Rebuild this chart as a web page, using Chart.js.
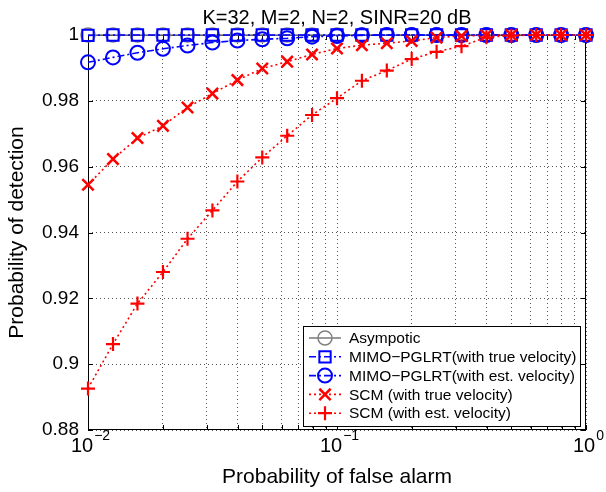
<!DOCTYPE html>
<html><head><meta charset="utf-8">
<script src="https://cdn.jsdelivr.net/npm/chart.js@4/dist/chart.umd.min.js"></script>
<style>html,body{margin:0;padding:0;background:#fff;}#wrap{width:606px;height:492px;position:relative;}</style>
</head><body><div id="wrap"><canvas id="c" width="606" height="492"></canvas></div>
<script>
const chartTitle = 'K=32, M=2, N=2, SINR=20 dB';
const xAxisTitle = 'Probability of false alarm';
const yAxisTitle = 'Probability of detection';
const pfa = [0.01, 0.0126, 0.0158, 0.02, 0.0251, 0.0316, 0.0398, 0.0501, 0.0631, 0.0794, 0.1, 0.1259, 0.1585, 0.1995, 0.2512, 0.3162, 0.3981, 0.5012, 0.631, 0.7943, 1];
const asymptotic = [1, 1, 1, 1, 1, 1, 1, 1, 1, 1, 1, 1, 1, 1, 1, 1, 1, 1, 1, 1, 1];
const mimoTrue = [0.9999, 1, 1, 1, 1, 1, 1, 1, 1, 1, 1, 1, 1, 1, 1, 1, 1, 1, 1, 1, 1];
const mimoEst = [0.9917, 0.9932, 0.9946, 0.9958, 0.9968, 0.9977, 0.9983, 0.9987, 0.9990, 0.9995, 0.9997, 0.9999, 1, 1, 1, 1, 1, 1, 1, 1, 1];
const scmTrue = [0.9545, 0.9623, 0.9687, 0.9724, 0.978, 0.9822, 0.9863, 0.9898, 0.9919, 0.9941, 0.9959, 0.9969, 0.9975, 0.9982, 0.9992, 0.9997, 0.9999, 1, 1, 1, 1];
const scmEst = [0.8926, 0.9061, 0.9184, 0.928, 0.9381, 0.9467, 0.9555, 0.9628, 0.9694, 0.9757, 0.9808, 0.9861, 0.9892, 0.9927, 0.9949, 0.9966, 0.9993, 0.9998, 1, 1, 1];
const seriesNames = ['Asympotic', 'MIMO\u2212PGLRT(with true velocity)', 'MIMO\u2212PGLRT(with est. velocity)', 'SCM (with true velocity)', 'SCM (with est. velocity)'];
const yTicks = [0.88, 0.9, 0.92, 0.94, 0.96, 0.98, 1];
const yTickLabels = ['0.88', '0.9', '0.92', '0.94', '0.96', '0.98', '1'];
const xGridTicks = [0.01, 0.02, 0.03, 0.04, 0.05, 0.06, 0.07, 0.08, 0.09, 0.1, 0.2, 0.3, 0.4, 0.5, 0.6, 0.7, 0.8, 0.9, 1];
const xMajorTicks = [0.01, 0.1, 1];
const xTickBase = '10';
const xTickExponents = ['\u22122', '\u22121', '0'];

const FONT = '"Liberation Sans", Arial, Helvetica, sans-serif';
const pts = arr => pfa.map((x, i) => ({x: x, y: arr[i]}));

const styles = [
  {color: '#808080', dash: [], pointStyle: 'circle', r: 7, pw: 1.5, order: 5},
  {color: '#0000ff', dash: [7, 3, 2, 3], pointStyle: 'rect', r: 8, pw: 2, order: 4},
  {color: '#0000ff', dash: [7, 3, 2, 3], pointStyle: 'circle', r: 7, pw: 2, order: 3},
  {color: '#ff0000', dash: [2, 3], pointStyle: 'crossRot', r: 8, pw: 2.5, order: 2},
  {color: '#ff0000', dash: [2, 3], pointStyle: 'cross', r: 7, pw: 2.2, order: 1}
];
const seriesData = [asymptotic, mimoTrue, mimoEst, scmTrue, scmEst];

const datasets = seriesData.map((d, i) => ({
  label: seriesNames[i],
  data: pts(d),
  borderColor: styles[i].color,
  backgroundColor: 'transparent',
  borderWidth: 1.6,
  borderDash: styles[i].dash,
  pointStyle: styles[i].pointStyle,
  pointRadius: styles[i].r,
  pointBorderWidth: styles[i].pw,
  pointBorderColor: styles[i].color,
  pointBackgroundColor: 'transparent',
  tension: 0,
  clip: false,
  order: styles[i].order
}));

function drawMarker(ctx, style, x, y) {
  Chart.helpers.drawPoint(ctx, {pointStyle: style.pointStyle, radius: style.r, borderWidth: style.pw, rotation: 0}, x, y);
}

const decor = {
  id: 'decor',
  beforeDatasetsDraw(chart) {
    const {ctx, chartArea: a, scales: {x, y}} = chart;
    ctx.save();
    ctx.strokeStyle = '#000';
    ctx.lineWidth = 1;
    ctx.setLineDash([]);
    ctx.strokeRect(a.left + 0.5, a.top + 0.5, a.right - a.left - 1, a.bottom - a.top - 1);
    ctx.beginPath();
    xGridTicks.forEach(v => {
      const px = Math.round(x.getPixelForValue(v)) + 0.5;
      ctx.moveTo(px, a.bottom); ctx.lineTo(px, a.bottom - 5);
      ctx.moveTo(px, a.top); ctx.lineTo(px, a.top + 5);
    });
    yTicks.forEach(v => {
      const py = Math.round(y.getPixelForValue(v)) + 0.5;
      ctx.moveTo(a.left, py); ctx.lineTo(a.left + 5, py);
      ctx.moveTo(a.right, py); ctx.lineTo(a.right - 5, py);
    });
    ctx.stroke();
    ctx.restore();
  },
  afterDraw(chart) {
    const {ctx, chartArea: a, scales: {x}} = chart;
    ctx.save();
    ctx.fillStyle = '#000';
    ctx.font = '20px ' + FONT;
    ctx.textAlign = 'center';
    ctx.textBaseline = 'alphabetic';
    ctx.fillText(chartTitle, (a.left + a.right) / 2, 24);
    xMajorTicks.forEach((v, i) => {
      const px = x.getPixelForValue(v);
      ctx.font = '20px ' + FONT;
      const wb = ctx.measureText(xTickBase).width;
      ctx.font = '14px ' + FONT;
      const we = ctx.measureText(xTickExponents[i]).width;
      const x0 = px - (wb + we) / 2 + 2;
      ctx.textAlign = 'left';
      ctx.font = '20px ' + FONT;
      ctx.fillText(xTickBase, x0, 452);
      ctx.font = '14px ' + FONT;
      ctx.fillText(xTickExponents[i], x0 + wb + 1, 440);
    });
    const lx = 303, ly = 326, lw = 277, lh = 100;
    ctx.fillStyle = '#fff';
    ctx.fillRect(lx, ly, lw, lh);
    ctx.strokeStyle = '#000';
    ctx.lineWidth = 1;
    ctx.setLineDash([]);
    ctx.strokeRect(lx + 0.5, ly + 0.5, lw, lh);
    seriesNames.forEach((name, i) => {
      const cy = 338 + i * 18.8;
      const s = styles[i];
      ctx.strokeStyle = s.color;
      ctx.lineWidth = 1.6;
      ctx.setLineDash(s.dash);
      ctx.beginPath(); ctx.moveTo(309, cy); ctx.lineTo(341, cy); ctx.stroke();
      ctx.setLineDash([]);
      ctx.strokeStyle = s.color;
      ctx.fillStyle = 'transparent';
      ctx.lineWidth = s.pw;
      drawMarker(ctx, s, 325, cy);
      ctx.fillStyle = '#000';
      ctx.font = '15.5px ' + FONT;
      ctx.textAlign = 'left';
      ctx.textBaseline = 'middle';
      ctx.fillText(name, 349, cy + 1);
    });
    ctx.restore();
  }
};

new Chart(document.getElementById('c'), {
  type: 'line',
  data: {datasets: datasets},
  options: {
    responsive: false,
    animation: false,
    devicePixelRatio: 1,
    layout: {padding: {top: 35, right: 20, left: 0, bottom: 0}},
    plugins: {legend: {display: false}, tooltip: {enabled: false}, title: {display: false}},
    scales: {
      x: {
        type: 'logarithmic', min: 0.01, max: 1,
        afterBuildTicks: s => { s.ticks = xGridTicks.map(v => ({value: v, major: xMajorTicks.includes(v)})); },
        afterFit: s => { s.height = 62; },
        ticks: {display: false},
        grid: {color: '#555', lineWidth: 1, drawTicks: false},
        border: {display: false, dash: [1, 3]},
        title: {display: true, text: xAxisTitle, color: '#000', font: {family: FONT, size: 21}, padding: {top: 0, bottom: 2}}
      },
      y: {
        type: 'linear', min: 0.88, max: 1,
        afterBuildTicks: s => { s.ticks = yTicks.map(v => ({value: v})); },
        afterFit: s => { s.width = 88; },
        ticks: {color: '#000', font: {family: FONT, size: 19}, padding: 9, callback: (v, i) => yTickLabels[i]},
        grid: {color: '#555', lineWidth: 1, drawTicks: false},
        border: {display: false, dash: [1, 3]},
        title: {display: true, text: yAxisTitle, color: '#000', font: {family: FONT, size: 21}, padding: {top: 5, bottom: 0}}
      }
    }
  },
  plugins: [decor]
});
</script>
</body></html>
